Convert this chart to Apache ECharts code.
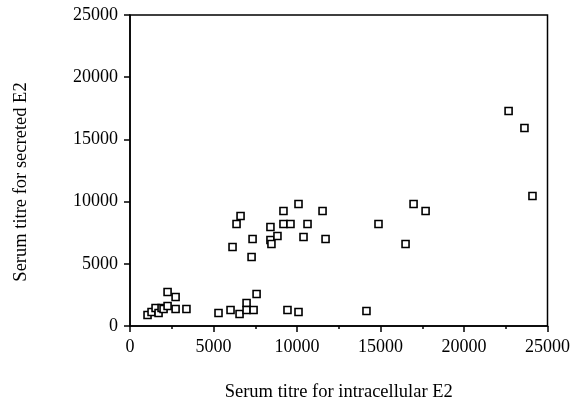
<!DOCTYPE html>
<html>
<head>
<meta charset="utf-8">
<script src="https://cdn.jsdelivr.net/npm/echarts@6/dist/echarts.min.js"></script>
<style>
html, body { margin: 0; padding: 0; background: #fff; }
#chart { width: 573px; height: 410px; }
</style>
</head>
<body>
<div id="chart"></div>
<script>
// serum titres (intracellular E2 vs secreted E2)
var intracellular = [
	1050, 1290, 1530, 1710, 1890, 2010, 2250, 2250, 2730, 2730, 3380,
	5300, 6020, 6560, 6980, 6980, 7400, 7580, 9430, 10090, 14160,
	6140, 6380, 6620, 7340, 7280, 8410, 8410, 8470, 8830, 9190, 9190,
	9610, 10090, 10390, 10630, 11530, 11710, 14880, 16500, 16980, 17700,
	22670, 23620, 24100
];
var secreted = [
	880, 1130, 1450, 1050, 1450, 1370, 1610, 2730, 2330, 1370, 1370,
	1050, 1290, 970, 1850, 1290, 1290, 2570, 1290, 1130, 1210,
	6350, 8200, 8840, 6990, 5550, 7960, 6910, 6590, 7240, 9250, 8200,
	8200, 9810, 7160, 8200, 9250, 6990, 8200, 6590, 9810, 9250,
	17280, 15920, 10450
];
var xTitle = "Serum titre for intracellular E2";
var yTitle = "Serum titre for secreted E2";

var points = [];
for (var i = 0; i < intracellular.length; i++) {
	points.push([intracellular[i], secreted[i]]);
}

var font = "Liberation Serif";
var plain = function(v){ return String(v); };
var chart = echarts.init(document.getElementById('chart'));
chart.setOption({
	animation: false,
	backgroundColor: '#fff',
	grid: {
		left: 130, right: 25, top: 15, bottom: 84,
		show: true, borderColor: '#000', borderWidth: 1.5
	},
	xAxis: {
		type: 'value', min: 0, max: 25000, interval: 5000,
		name: xTitle, nameLocation: 'middle', nameGap: 57,
		nameTextStyle: { color: '#000', fontFamily: font, fontSize: 18.5 },
		axisLine: { show: true, onZero: false, lineStyle: { color: '#000', width: 1.5 } },
		axisTick: { show: true, length: 6, lineStyle: { color: '#000', width: 1.5 } },
		minorTick: { show: true, splitNumber: 2, length: 3, lineStyle: { color: '#000', width: 1.5 } },
		axisLabel: { color: '#000', fontFamily: font, fontSize: 18, margin: 12, formatter: plain },
		splitLine: { show: false }
	},
	yAxis: {
		type: 'value', min: 0, max: 25000, interval: 5000,
		axisLine: { show: true, onZero: false, lineStyle: { color: '#000', width: 1.5 } },
		axisTick: { show: true, length: 6, lineStyle: { color: '#000', width: 1.5 } },
		axisLabel: { color: '#000', fontFamily: font, fontSize: 18, margin: 12, formatter: plain },
		splitLine: { show: false }
	},
	graphic: [{
		type: 'text',
		x: 21, y: 182,
		rotation: Math.PI / 2,
		style: {
			text: yTitle, fill: '#000',
			font: '18.5px "Liberation Serif"',
			align: 'center', verticalAlign: 'middle'
		}
	}],
	series: [{
		type: 'scatter',
		data: points,
		symbol: 'rect',
		symbolSize: 7,
		itemStyle: { color: '#fff', borderColor: '#000', borderWidth: 1.6, opacity: 1 }
	}]
});
</script>
</body>
</html>
